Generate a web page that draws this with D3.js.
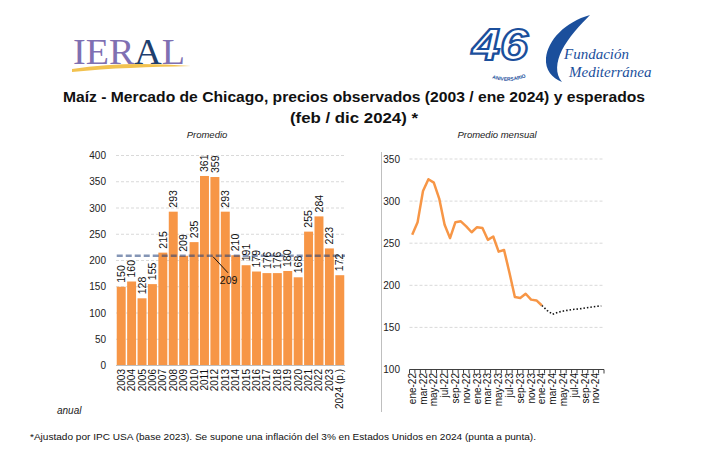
<!DOCTYPE html>
<html><head><meta charset="utf-8">
<script src="https://cdn.jsdelivr.net/npm/d3@7"></script>
<style>
body{margin:0;background:#fff;}
svg text{font-family:"Liberation Sans",Arial,sans-serif;}
</style></head>
<body><svg id="c" width="708" height="451"></svg>
<script>
// ---- data ----
const years = ["2003","2004","2005","2006","2007","2008","2009","2010","2011","2012","2013","2014","2015","2016","2017","2018","2019","2020","2021","2022","2023","2024 (p.)"];
const annualPrices = [150,160,128,155,215,293,209,235,361,359,293,210,191,179,176,176,180,168,255,284,223,172];
const annualAverage = 209;
const annualTicks = [0,50,100,150,200,250,300,350,400];

const months = ["ene-22","feb-22","mar-22","abr-22","may-22","jun-22","jul-22","ago-22","sep-22","oct-22","nov-22","dic-22",
                "ene-23","feb-23","mar-23","abr-23","may-23","jun-23","jul-23","ago-23","sep-23","oct-23","nov-23","dic-23",
                "ene-24","feb-24","mar-24","abr-24","may-24","jun-24","jul-24","ago-24","sep-24","oct-24","nov-24","dic-24"];
const observedMonthly = [260,275,312,326,322,303,272,256,275,276,270,263,269,268,254,258,240,242,215,186,185,190,183,182,176];
const expectedMonthly = [176,170,165.5,168,169.5,170.5,171.5,172,173,174,175,175.5]; // ene-24 .. dic-24
const monthlyTicks = [100,150,200,250,300,350];

const svg = d3.select("#c");
const orange = "#F79646";

// ---- header ----
// IERAL logo
svg.append("path").attr("d","M72,69 C110,63 150,63 191,66 C150,67 110,68 72,72 Z").attr("fill","#f2c24f");
const ieral = svg.append("text").attr("x",73).attr("y",64).attr("font-size",36)
  .style("font-family","'Liberation Serif','DejaVu Serif',serif").attr("fill","#7f70b2").attr("textLength",112).attr("lengthAdjust","spacingAndGlyphs");
ieral.append("tspan").text("IER");
ieral.append("tspan").attr("fill","#1f3f6e").text("A");
ieral.append("tspan").text("L");

// Fundación Mediterránea logo
const blue = "#1b4f9c";
svg.append("text").attr("x",472).attr("y",60).attr("font-size",44).attr("font-weight","bold").attr("font-style","italic")
  .attr("fill","#fff").attr("stroke",blue).attr("stroke-width",2.2).attr("textLength",56).attr("lengthAdjust","spacingAndGlyphs").text("46");
svg.append("path").attr("id","arcAniv").attr("d","M489,77 Q508,85 529,76").attr("fill","none");
svg.append("text").attr("font-size",5).attr("font-weight","bold").attr("fill",blue)
  .append("textPath").attr("href","#arcAniv").attr("startOffset","50%").attr("text-anchor","middle").text("ANIVERSARIO");
svg.append("path").attr("d","M590,15 C565,22 548,40 546,58 C545,70 552,78 562,82 C555,74 556,62 562,50 C568,38 580,25 590,15 Z").attr("fill",blue);
svg.append("text").attr("x",564).attr("y",59).attr("font-size",15).attr("font-style","italic")
  .style("font-family","'Liberation Serif','DejaVu Serif',serif").attr("fill",blue).text("Fundación");
svg.append("text").attr("x",569).attr("y",77).attr("font-size",15).attr("font-style","italic")
  .style("font-family","'Liberation Serif','DejaVu Serif',serif").attr("fill",blue).text("Mediterránea");

// Title
svg.append("text").attr("x",354).attr("y",102).attr("text-anchor","middle").attr("font-size",15).attr("font-weight","bold")
  .attr("fill","#111").attr("textLength",582).attr("lengthAdjust","spacingAndGlyphs")
  .text("Maíz - Mercado de Chicago, precios observados (2003 / ene 2024) y esperados");
svg.append("text").attr("x",354).attr("y",123).attr("text-anchor","middle").attr("font-size",15).attr("font-weight","bold")
  .attr("fill","#111").attr("textLength",128).attr("lengthAdjust","spacingAndGlyphs")
  .text("(feb / dic 2024) *");

// ---- left chart ----
const x1 = d3.scaleBand().domain(years).range([116,345]).paddingInner(0.14).paddingOuter(0.07);
const y1 = d3.scaleLinear().domain([0,400]).range([365.5,155.5]);
const g1 = svg.append("g");

g1.append("text").attr("x",207).attr("y",138).attr("text-anchor","middle").attr("font-size",9.5).attr("font-style","italic").attr("fill","#222").text("Promedio");

g1.selectAll("line.grid").data(annualTicks.filter(d=>d>0)).join("line")
  .attr("x1",116).attr("x2",345).attr("y1",d=>y1(d)).attr("y2",d=>y1(d))
  .attr("stroke","#d9d9d9").attr("stroke-width",1).attr("stroke-dasharray","3,2");

const ax1 = d3.axisLeft(y1).tickValues(annualTicks).tickSize(0).tickPadding(0);
g1.append("g").attr("transform","translate(106,0)").call(ax1)
  .call(g=>g.select(".domain").remove())
  .call(g=>g.selectAll("text").attr("font-size",10).attr("fill","#222").style("font-family","'Liberation Sans',Arial,sans-serif"));

g1.selectAll("rect.bar").data(years).join("rect")
  .attr("x",d=>x1(d)).attr("width",x1.bandwidth())
  .attr("y",(d,i)=>y1(annualPrices[i])).attr("height",(d,i)=>y1(0)-y1(annualPrices[i]))
  .attr("fill",orange);

g1.append("line").attr("x1",116).attr("x2",345).attr("y1",y1(0)).attr("y2",y1(0)).attr("stroke","#bfbfbf");

// average dashed line
g1.append("line").attr("x1",x1(years[0])).attr("x2",345).attr("y1",y1(annualAverage)).attr("y2",y1(annualAverage))
  .attr("stroke","#1f3e78").attr("stroke-opacity",0.55).attr("stroke-width",2.5).attr("stroke-dasharray","6,3");

// value labels
g1.selectAll("text.val").data(years).join("text")
  .attr("transform",(d,i)=>`translate(${x1(d)+x1.bandwidth()/2},${y1(annualPrices[i])-4}) rotate(-90)`)
  .attr("dy","0.35em").attr("font-size",10.5).attr("fill","#111").text((d,i)=>annualPrices[i]);

// average annotation
g1.append("line").attr("x1",x1("2012")+x1.bandwidth()*0.3).attr("y1",y1(annualAverage)+1).attr("x2",x1("2013")+x1.bandwidth()*0.8).attr("y2",y1(annualAverage)+17)
  .attr("stroke","#111").attr("stroke-width",1);
g1.append("text").attr("x",x1("2013")-1).attr("y",y1(annualAverage)+28).attr("font-size",10.5).attr("fill","#111").text(annualAverage);

// x labels
g1.selectAll("text.xl").data(years).join("text")
  .attr("transform",d=>`translate(${x1(d)+x1.bandwidth()/2},369) rotate(-90)`)
  .attr("dy","0.35em").attr("text-anchor","end").attr("font-size",10).attr("fill","#111").text(d=>d);

svg.append("text").attr("x",57).attr("y",414).attr("font-size",10).attr("font-style","italic").attr("fill","#222").text("anual");

// ---- right chart ----
const x2 = d3.scaleBand().domain(months).range([409.5,604]);
const y2 = d3.scaleLinear().domain([100,350]).range([369.5,159]);
const g2 = svg.append("g");

g2.append("text").attr("x",497).attr("y",138).attr("text-anchor","middle").attr("font-size",9.5).attr("font-style","italic").attr("fill","#222").text("Promedio mensual");

g2.append("line").attr("x1",381.5).attr("x2",381.5).attr("y1",152).attr("y2",412).attr("stroke","#bfbfbf");

g2.selectAll("line.grid").data(monthlyTicks.filter(d=>d>100)).join("line")
  .attr("x1",409.5).attr("x2",604).attr("y1",d=>y2(d)).attr("y2",d=>y2(d))
  .attr("stroke","#d9d9d9").attr("stroke-width",1).attr("stroke-dasharray","3,2");

g2.append("g").attr("transform","translate(400,0)").call(d3.axisLeft(y2).tickValues(monthlyTicks).tickSize(0).tickPadding(0))
  .call(g=>g.select(".domain").remove())
  .call(g=>g.selectAll("text").attr("font-size",10).attr("fill","#222").style("font-family","'Liberation Sans',Arial,sans-serif"));

// x axis with ticks at band boundaries
g2.append("line").attr("x1",409.5).attr("x2",604).attr("y1",y2(100)).attr("y2",y2(100)).attr("stroke","#404040");
const bounds = months.map(m=>x2(m)).concat([x2.range()[1]]);
g2.selectAll("line.tk").data(bounds).join("line")
  .attr("x1",d=>d).attr("x2",d=>d).attr("y1",y2(100)).attr("y2",y2(100)+4).attr("stroke","#404040");

g2.selectAll("text.xl").data(months.filter((m,i)=>i%2===0)).join("text")
  .attr("transform",d=>`translate(${x2(d)+x2.bandwidth()/2},373) rotate(-90)`)
  .attr("dy","0.35em").attr("text-anchor","end").attr("font-size",10).attr("fill","#111").text(d=>d);

const cx = m=>x2(m)+x2.bandwidth()/2;
const line = d3.line().x(d=>cx(d[0])).y(d=>y2(d[1]));
g2.append("path").datum(observedMonthly.map((v,i)=>[months[i],v]))
  .attr("d",line).attr("fill","none").attr("stroke",orange).attr("stroke-width",2.5).attr("stroke-linejoin","round");
g2.append("path").datum(expectedMonthly.map((v,i)=>[months[24+i],v]))
  .attr("d",line).attr("fill","none").attr("stroke","#111").attr("stroke-width",1.6).attr("stroke-dasharray","1.5,2");

// footnote
svg.append("text").attr("x",30).attr("y",440).attr("font-size",9.5).attr("fill","#111").attr("textLength",506).attr("lengthAdjust","spacingAndGlyphs")
  .text("*Ajustado por IPC USA (base 2023). Se supone una inflación del 3% en Estados Unidos en 2024 (punta a punta).");
</script></body></html>
